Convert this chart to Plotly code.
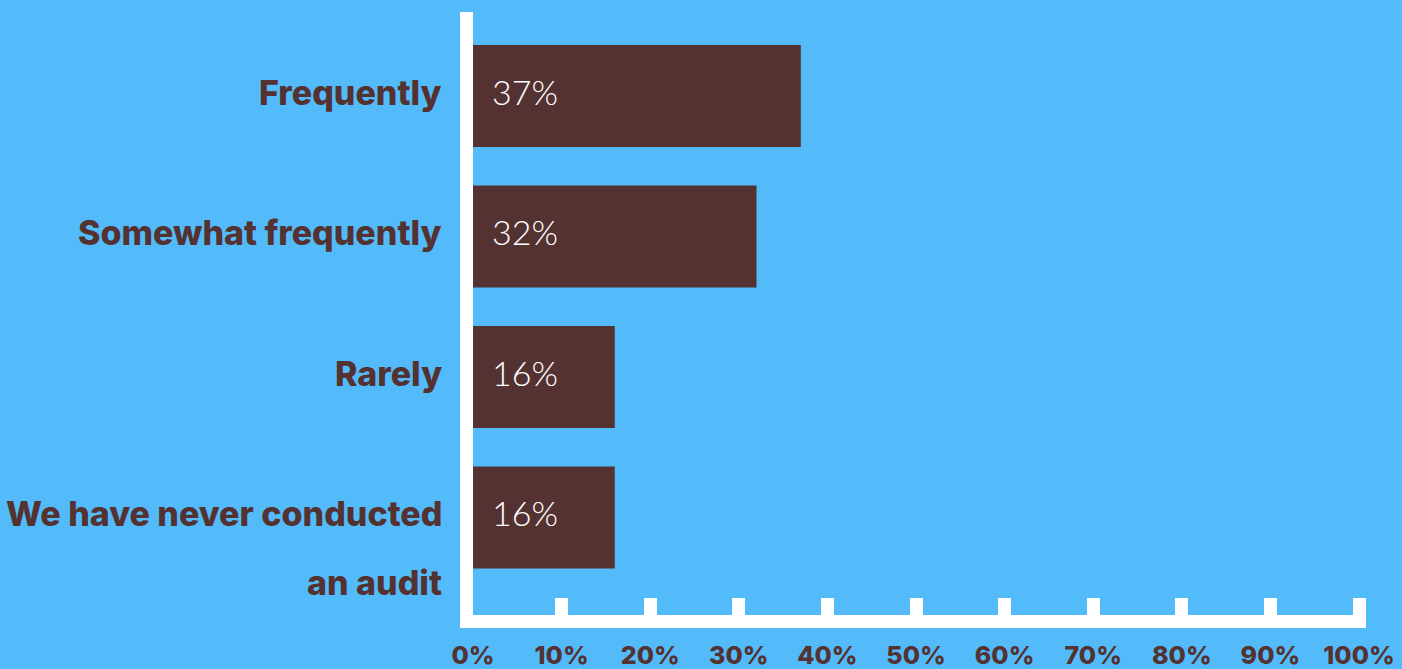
import plotly.graph_objects as go

# Survey responses: how often audits are conducted
categories = ["Frequently", "Somewhat frequently", "Rarely", "We have never conducted<br>an audit"]
shares = [37, 32, 16, 16]
x_ticks = [0, 10, 20, 30, 40, 50, 60, 70, 80, 90, 100]
x_tick_labels = [f"{t}%" for t in x_ticks]

BG = "#53BBF9"
BROWN = "#553232"
WHITE = "#FFFFFF"

fig = go.Figure()
fig.add_trace(go.Bar(
    x=shares,
    y=categories,
    orientation="h",
    marker=dict(color=BROWN, line=dict(width=0)),
    width=0.726,
    hoverinfo="skip",
))

annotations = []
# value labels inside each bar, near its base
for cat, val in zip(categories, shares):
    annotations.append(dict(
        x=0, y=cat, xref="x", yref="y",
        text=f"{val}%", showarrow=False,
        xanchor="left", yanchor="middle", xshift=17, yshift=5,
        font=dict(family="Lato", size=34, color=WHITE, weight=300),
    ))
# category labels to the left of the axis, one annotation per text line
for cat in categories:
    for i, line in enumerate(cat.split("<br>")):
        annotations.append(dict(
            x=0, y=cat, xref="paper", yref="y",
            text=line, showarrow=False,
            xanchor="right", yanchor="middle", xshift=-29, yshift=4 - 69 * i,
            font=dict(family="Inter", size=34, color=BROWN, weight=800),
        ))

fig.update_layout(
    width=1402, height=669,
    margin=dict(l=473, r=36, t=12, b=54, autoexpand=False),
    paper_bgcolor=BG, plot_bgcolor=BG,
    showlegend=False,
    annotations=annotations,
    xaxis=dict(
        range=[0, 100.79],
        tickvals=x_ticks, ticktext=x_tick_labels,
        tickfont=dict(family="Inter", size=25, color=BROWN, weight=800),
        showgrid=False, zeroline=False, automargin=False,
        showline=True, linecolor=WHITE, linewidth=13,
        ticks="inside", ticklen=17, tickwidth=13, tickcolor=WHITE,
        ticklabelstandoff=6,
        fixedrange=True,
    ),
    yaxis=dict(
        categoryorder="array", categoryarray=categories,
        range=[3.694, -0.598],
        showticklabels=False, showgrid=False, zeroline=False, automargin=False,
        showline=True, linecolor=WHITE, linewidth=13,
        ticks="", fixedrange=True,
    ),
)

fig.write_html("out.html", config={"displayModeBar": False})
